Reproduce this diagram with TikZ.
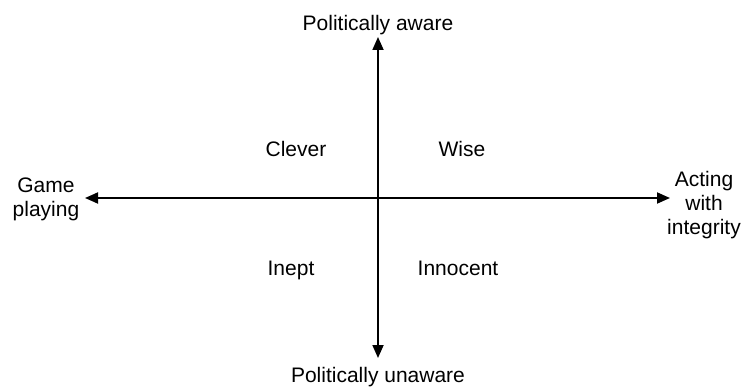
\documentclass[tikz,border=0pt]{standalone}
\usepackage{fontspec}
\setmainfont{Liberation Sans}
\usetikzlibrary{arrows.meta, positioning}

\begin{document}
\begin{tikzpicture}[
	x=1pt, y=-1pt,
	>={Triangle[length=13pt, width=11pt]},
	every node/.style={font=\fontsize{21}{24}\selectfont, inner sep=0pt},
	axis/.style={line width=1.8pt, black, <->},
	pole label/.style={align=center},
	quadrant/.style={anchor=base}
	]
	\useasboundingbox (0,0) rectangle (743,387);
	% =====================================================
	% ENDPOINTS OF THE AXES
	% =====================================================
	\coordinate (Left) at (85,198);
	\coordinate (Right) at (670,198);
	\coordinate (Top) at (378,37);
	\coordinate (Bottom) at (378,358);

	% =====================================================
	% AXES
	% =====================================================
	\draw[axis] (Left) -- (Right);
	\draw[axis] (Top) -- (Bottom);

	% =====================================================
	% POLE LABELS
	% =====================================================
	\node[anchor=base] (Aware) at (378,31) {Politically aware};
	\node[anchor=base] (Unaware) at (378,382) {Politically unaware};
	\node[pole label] (Game) at (46,199) {Game\\playing};
	\node[pole label] (Integrity) at (704,205) {Acting\\with\\integrity};

	% =====================================================
	% QUADRANT LABELS
	% =====================================================
	\node[quadrant] (Clever) at (296,157) {Clever};
	\node[quadrant] (Wise) at (462,157) {Wise};
	\node[quadrant] (Inept) at (291,275) {Inept};
	\node[quadrant] (Innocent) at (458,275) {Innocent};

\end{tikzpicture}
\end{document}
